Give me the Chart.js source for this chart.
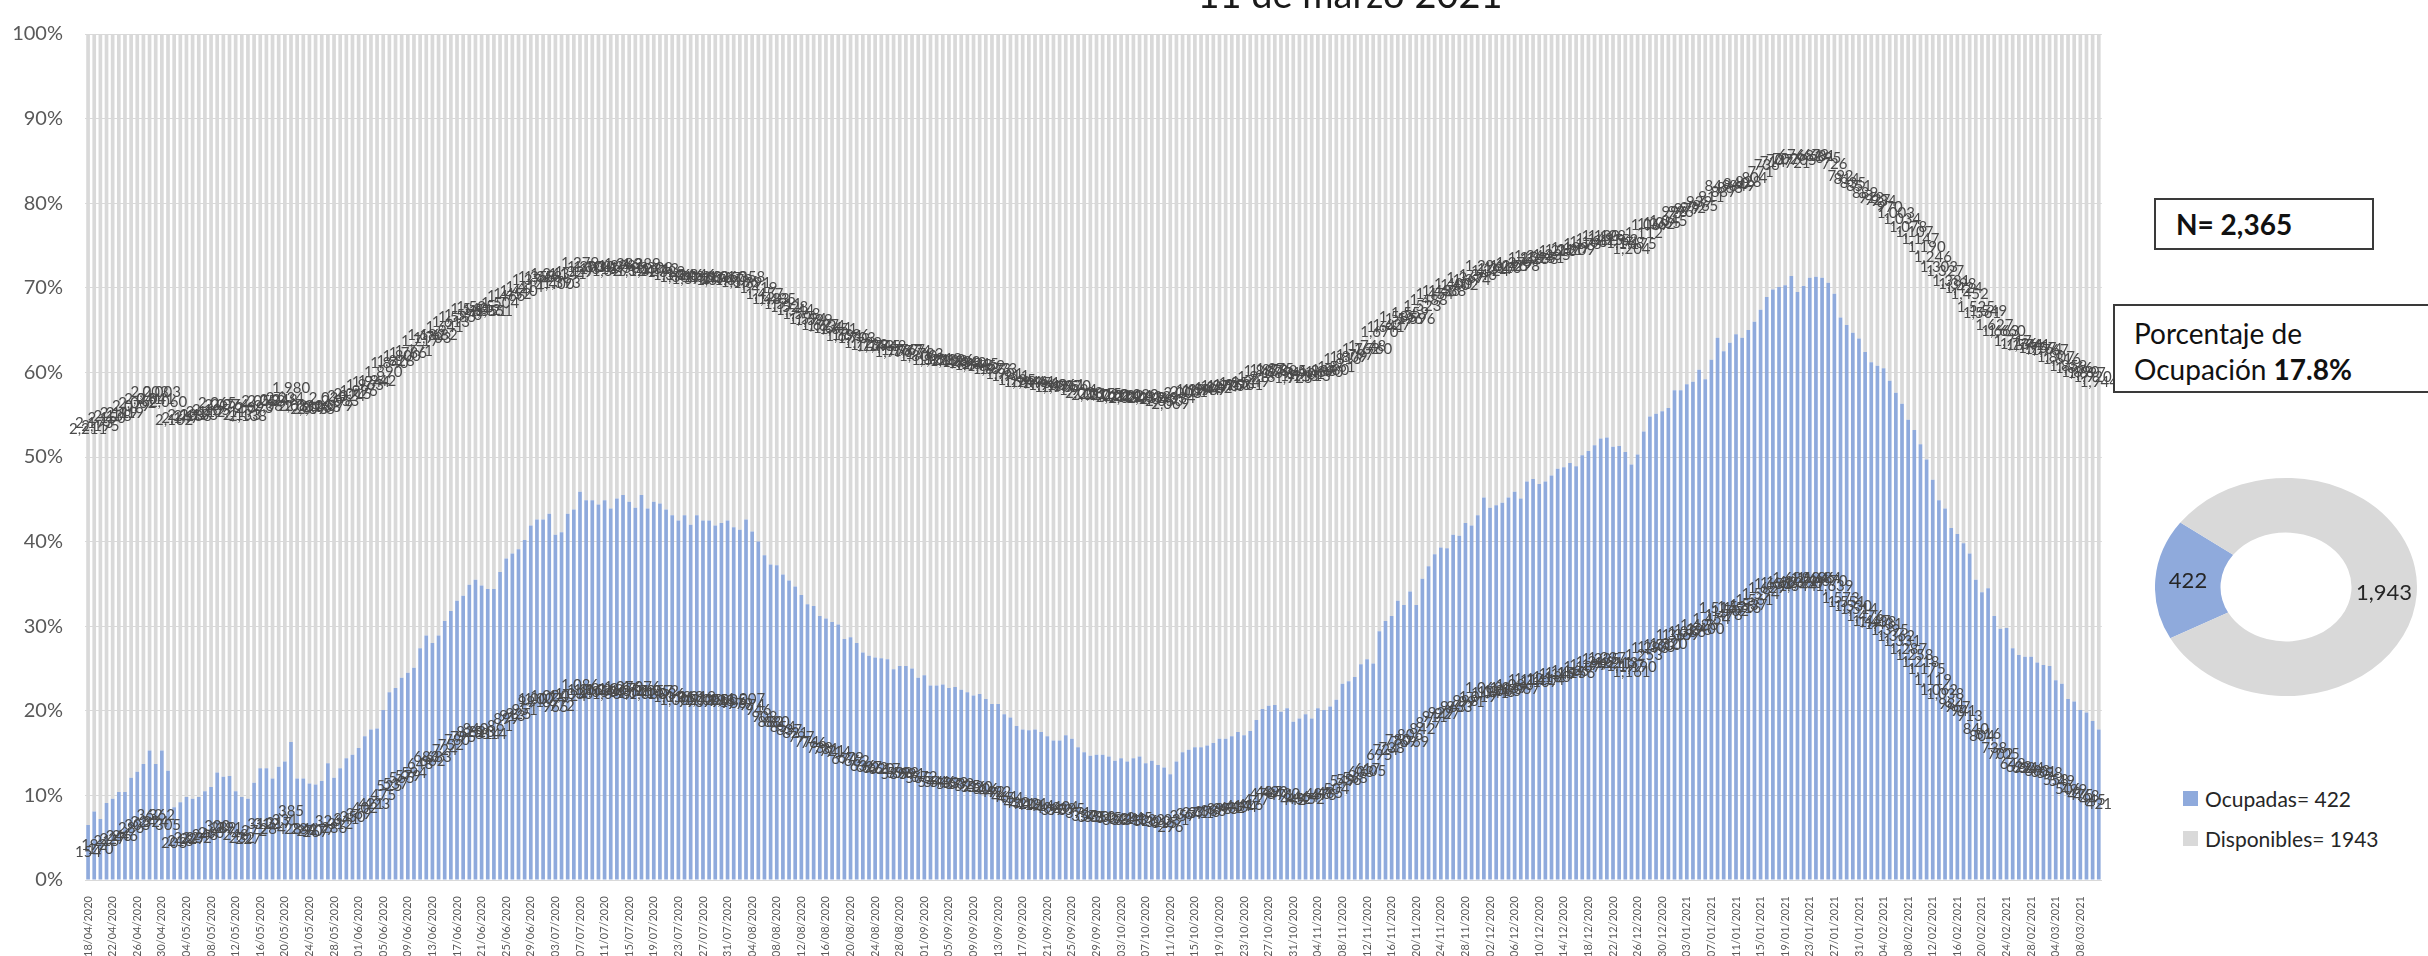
<!DOCTYPE html>
<html>
<head>
<meta charset="utf-8">
<script src="https://cdn.jsdelivr.net/npm/chart.js@4/dist/chart.umd.min.js"></script>
<style>
  body { margin: 0; width: 2428px; height: 956px; overflow: hidden; background: #fff; position: relative; font-family: Lato, sans-serif; }
  #main { position: absolute; left: 0; top: 0; }
  #dona { position: absolute; left: 2155px; top: 456px; }
  .box { position: absolute; border: 2px solid #3a3a3a; box-sizing: border-box; color: #111; background: #fff; }
  #nbox { left: 2154px; top: 198px; width: 220px; height: 52px; font-weight: bold; font-size: 28px; line-height: 48px; padding-left: 20px; }
  #pbox { left: 2113px; top: 304px; width: 340px; height: 89px; font-size: 28px; line-height: 36px; padding: 9px 0 0 19px; }
  #leyenda { position: absolute; left: 2183px; top: 786px; font-size: 21px; color: #262626; }
  #leyenda div { height: 40px; display: flex; align-items: flex-start; }
  #leyenda span.sq { width: 15px; height: 15px; margin: 5px 7px 0 0; display: inline-block; }
</style>
</head>
<body>
<canvas id="main" width="2120" height="956"></canvas>
<div class="box" id="nbox">N= 2,365</div>
<div class="box" id="pbox">Porcentaje de<br>Ocupación <b>17.8%</b></div>
<canvas id="dona" width="262" height="262"></canvas>
<div id="leyenda"></div>
<script>
Chart.defaults.font.family = "Lato";

const TOTAL = 2365;
const inicio = new Date(2020, 3, 18);

// % de camas ocupadas por dia, 18/04/2020 - 11/03/2021
const ocupadas = [
  6.5, 8.1, 7.2, 9.1, 9.6, 10.4, 10.4, 12.1, 12.8, 13.7,
  15.3, 13.7, 15.3, 12.9, 8.6, 9.2, 9.8, 9.6, 9.8, 10.5,
  11.0, 12.7, 12.2, 12.3, 10.5, 9.8, 9.6, 11.5, 13.2, 13.2,
  12.0, 13.4, 14.0, 16.3, 12.0, 12.0, 11.4, 11.3, 11.7, 13.8,
  12.1, 13.2, 14.4, 14.8, 15.6, 17.0, 17.8, 17.9, 20.1, 22.2,
  22.7, 23.9, 24.5, 25.1, 27.4, 28.9, 28.0, 28.9, 30.6, 31.8,
  33.0, 33.6, 34.9, 35.5, 34.8, 34.4, 34.4, 36.4, 38.0, 38.6,
  39.1, 40.2, 41.9, 42.6, 42.6, 43.3, 40.8, 41.1, 43.3, 43.8,
  45.9, 44.9, 44.9, 44.4,
  44.9, 43.9, 45.1, 45.5, 44.7, 44.0, 45.5, 43.9, 44.7, 44.5,
  43.8, 43.1, 42.5, 43.1, 42.0, 43.1, 42.5, 42.5, 41.9, 42.2,
  42.5, 41.7, 41.4, 42.6, 41.2, 40.0, 38.4, 37.3, 37.2, 36.1,
  35.4, 34.7, 33.7, 32.6, 32.4, 31.2, 30.9, 30.5, 30.2, 28.5,
  28.7, 28.0, 26.9, 26.5, 26.3, 26.2, 26.1, 24.9, 25.3, 25.3,
  25.0, 23.9, 24.2, 23.0, 23.0, 23.1, 22.7, 22.8, 22.5, 22.2,
  21.8, 22.0, 21.4, 20.8, 20.8, 19.6, 19.2, 18.2, 17.8, 17.7,
  17.8, 17.5, 17.0, 16.5, 16.5, 17.1, 16.7, 15.7, 15.1, 14.7,
  14.8, 14.8,
  14.6, 14.1, 14.4, 14.0, 14.4, 14.6, 13.8, 14.1, 13.6, 13.3,
  12.5, 14.0, 15.1, 15.4, 15.7, 15.7, 15.9, 16.2, 16.7, 16.7,
  17.0, 17.5, 17.1, 17.6, 18.9, 20.2, 20.6, 20.7, 19.9, 20.3,
  18.7, 19.1, 19.6, 19.1, 20.3, 20.1, 20.5, 21.3, 23.2, 23.5,
  24.0, 25.5, 26.1, 25.6, 29.4, 30.6, 31.2, 33.0, 32.5, 34.1,
  32.5, 35.6, 37.1, 38.5, 39.3, 39.2, 40.8, 40.7, 42.2, 41.9,
  43.1, 45.2, 44.0, 44.3, 44.6, 45.2, 45.9, 45.1, 47.1, 47.4,
  46.8, 47.1, 47.8, 48.6, 48.8, 49.3, 48.9, 50.2, 50.7, 51.4,
  52.2, 52.3, 51.2,
  51.3, 50.6, 49.1, 50.3, 53.0, 54.8, 55.1, 55.4, 55.8, 57.9,
  57.9, 58.6, 58.9, 60.3, 59.2, 61.5, 64.1, 62.5, 63.5, 64.5,
  64.1, 65.0, 66.0, 67.4, 68.9, 69.8, 70.1, 70.3, 71.4, 69.5,
  70.2, 71.2, 71.3, 71.2, 70.6, 69.3, 66.5, 65.6, 64.7, 64.0,
  62.4, 61.2, 60.8, 60.5, 59.0, 57.6, 56.3, 54.4, 53.2, 51.5,
  49.7, 47.3, 44.9, 43.9, 41.6, 40.9, 39.8, 38.6, 35.5, 34.0,
  34.5, 31.2, 29.7, 29.8, 27.4, 26.6, 26.4, 26.4, 25.7, 25.4,
  25.3, 23.6, 23.2, 21.4, 21.1, 20.1, 19.8, 18.8, 17.8
];
const disponibles = ocupadas.map(v => +(100 - v).toFixed(1));

const dias = ocupadas.map((_, i) => {
  const d = new Date(inicio.getFullYear(), inicio.getMonth(), inicio.getDate() + i);
  return String(d.getDate()).padStart(2, "0") + "/" + String(d.getMonth() + 1).padStart(2, "0") + "/" + d.getFullYear();
});

const donaLabels = ["Ocupadas", "Disponibles"];
const donaValues = [422, 1943];
const azul = "#8FAADC";
const gris = "#D9D9D9";

// etiquetas de cada barra (numero de camas) al centro del segmento
const etiquetasBarras = {
  id: "etiquetasBarras",
  afterDatasetsDraw(chart) {
    const ctx = chart.ctx;
    ctx.save();
    ctx.font = "15px Lato";
    ctx.fillStyle = "#4a4a4a";
    ctx.textAlign = "center";
    ctx.textBaseline = "middle";
    chart.data.datasets.forEach((ds, d) => {
      chart.getDatasetMeta(d).data.forEach((el, i) => {
        const n = Math.round(ds.data[i] * TOTAL / 100);
        ctx.fillText(n.toLocaleString("en-US"), el.x, (el.y + el.base) / 2);
      });
    });
    ctx.restore();
  }
};

const titulo = {
  id: "titulo",
  afterDraw(chart) {
    const ctx = chart.ctx;
    ctx.save();
    ctx.font = "38px Lato";
    ctx.fillStyle = "#1a1a1a";
    ctx.textAlign = "center";
    ctx.textBaseline = "alphabetic";
    ctx.fillText("11 de marzo 2021", 1350, 8);
    ctx.restore();
  }
};

new Chart(document.getElementById("main"), {
  type: "bar",
  data: {
    labels: dias,
    datasets: [
      { label: "Ocupadas", data: ocupadas, backgroundColor: azul, barPercentage: 0.6, categoryPercentage: 1 },
      { label: "Disponibles", data: disponibles, backgroundColor: gris, barPercentage: 0.6, categoryPercentage: 1 },
    ],
  },
  options: {
    responsive: false,
    animation: false,
    layout: { padding: { top: 14, right: 15 } },
    plugins: { legend: { display: false }, tooltip: { enabled: false } },
    scales: {
      x: {
        stacked: true,
        grid: { display: false },
        border: { color: "#d9d9d9" },
        ticks: {
          autoSkip: false,
          maxRotation: 90,
          minRotation: 90,
          padding: 8,
          color: "#595959",
          font: { size: 11 },
          callback: (v, i) => (i % 4 === 0 ? dias[i] : ""),
        },
        afterFit: (s) => { s.height = 76; },
      },
      y: {
        stacked: true,
        min: 0,
        max: 100,
        ticks: { stepSize: 10, callback: (v) => v + "%", padding: 22, color: "#595959", font: { size: 20 } },
        grid: { color: "#d9d9d9", drawTicks: false },
        border: { display: false },
        afterFit: (s) => { s.width = 85; },
      },
    },
  },
  plugins: [etiquetasBarras, titulo],
});

// dona achatada como en el original
const K = 109 / 131;
const achatar = {
  id: "achatar",
  beforeDatasetsDraw(chart) {
    const el = chart.getDatasetMeta(0).data[0];
    const ctx = chart.ctx;
    ctx.save();
    ctx.translate(el.x, el.y);
    ctx.scale(1, K);
    ctx.translate(-el.x, -el.y);
  },
  afterDatasetsDraw(chart) {
    const ctx = chart.ctx;
    ctx.restore();
    ctx.save();
    ctx.font = "22px Lato";
    ctx.fillStyle = "#262626";
    ctx.textAlign = "center";
    ctx.textBaseline = "middle";
    chart.getDatasetMeta(0).data.forEach((el, i) => {
      const p = el.tooltipPosition();
      const y = el.y + (p.y - el.y) * K;
      ctx.fillText(chart.data.datasets[0].data[i].toLocaleString("en-US"), p.x, y);
    });
    ctx.restore();
  }
};

new Chart(document.getElementById("dona"), {
  type: "doughnut",
  data: {
    labels: donaLabels,
    datasets: [{ data: donaValues, backgroundColor: [azul, gris], borderWidth: 0 }],
  },
  options: {
    responsive: false,
    animation: false,
    rotation: 242,
    cutout: "50%",
    layout: { padding: 0 },
    plugins: { legend: { display: false }, tooltip: { enabled: false } },
  },
  plugins: [achatar],
});

const leyenda = document.getElementById("leyenda");
donaLabels.forEach((l, i) => {
  const row = document.createElement("div");
  row.innerHTML = '<span class="sq" style="background:' + [azul, gris][i] + '"></span>' + l + "= " + donaValues[i];
  leyenda.appendChild(row);
});
</script>
</body>
</html>
